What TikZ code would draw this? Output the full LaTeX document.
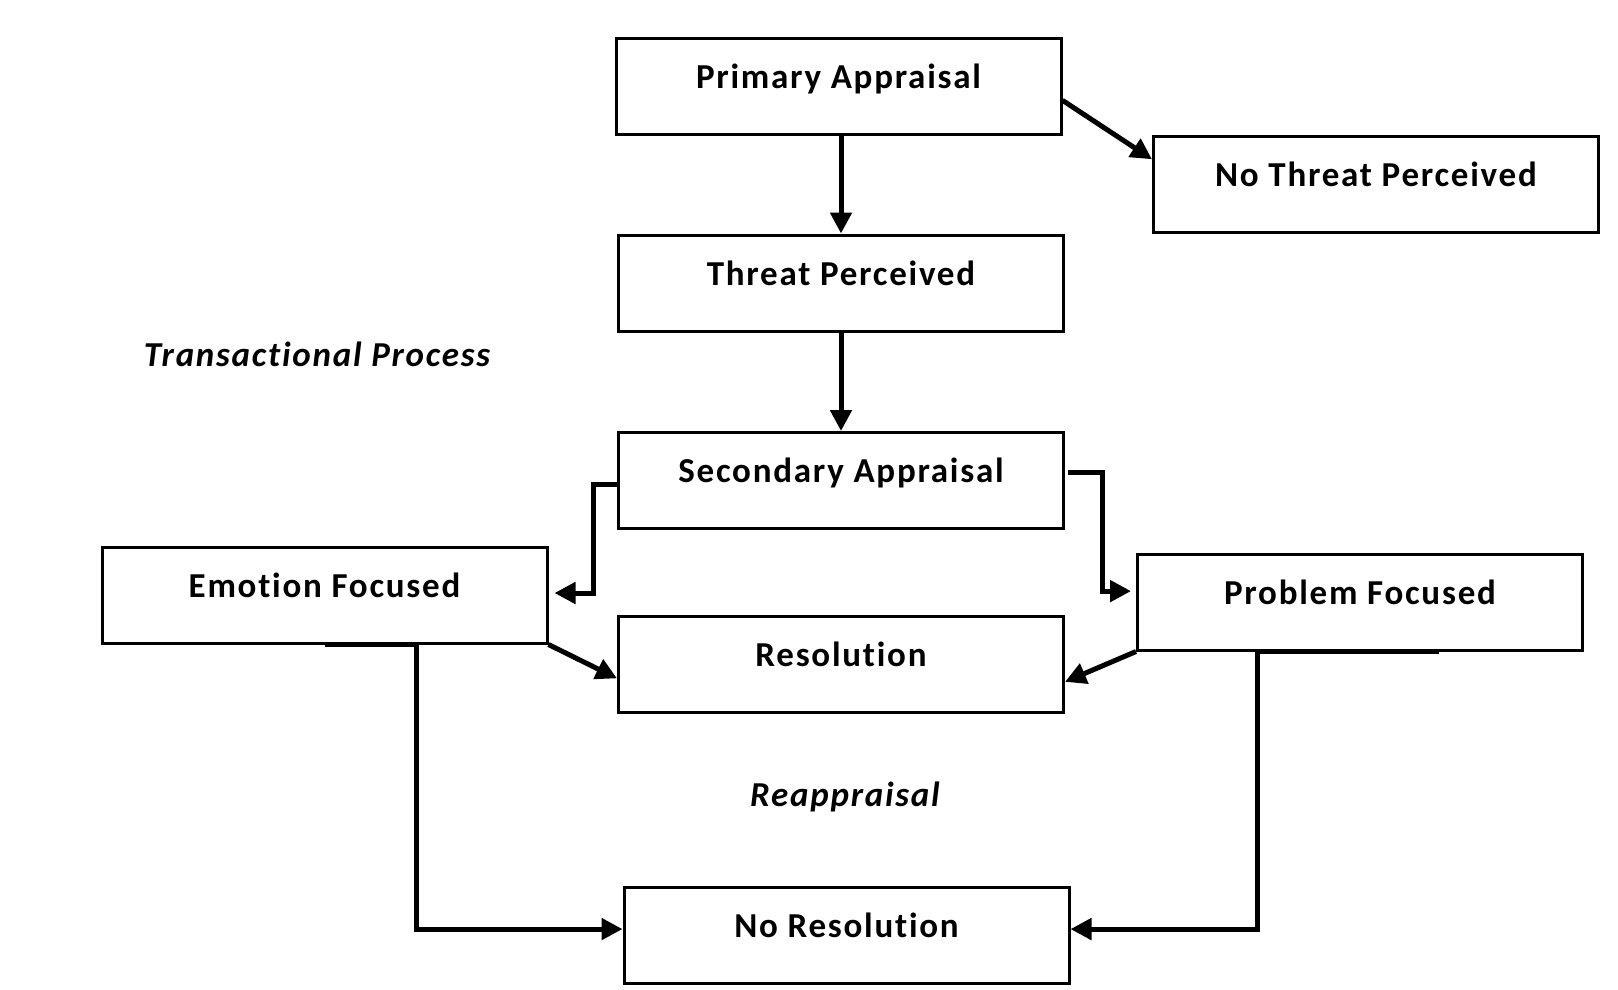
\documentclass[tikz,border=0pt]{standalone}
\usepackage{fontspec}
\setmainfont{Carlito}[LetterSpace=5,Ligatures=CommonOff]
\usetikzlibrary{arrows.meta,calc}
\begin{document}
\begin{tikzpicture}[x=1pt,y=-1pt,
  box/.style={draw=black,line width=3pt,minimum width=445pt,inner xsep=0pt,inner ysep=0pt,
    text height=50pt,text depth=46pt,font=\fontsize{35}{42}\selectfont\bfseries},
  conn/.style={line width=5pt,-{Triangle[length=21pt,width=21pt]}},
  note/.style={font=\fontsize{35}{42}\selectfont\bfseries\itshape}]
\useasboundingbox (0,0) rectangle (1618,989);
\node[box] (PA) at (838.5,86) {Primary Appraisal};
\node[box] (NTP) at (1376,184) {No Threat Perceived};
\node[box] (TP) at (841,283) {Threat Perceived};
\node[box] (SA) at (841,480.5) {Secondary Appraisal};
\node[box] (EF) at (324.5,595) {Emotion Focused};
\node[box] (PF) at (1360,602) {Problem Focused};
\node[box] (RES) at (841,664) {Resolution};
\node[box] (NR) at (846.5,935) {No Resolution};
\node[note] (TRP) at (317,354) {Transactional Process};
\node[note] (REA) at (845,797) {Reappraisal};
% connectors
\draw[conn] (PA.south -| TP.north) -- (TP.north);
\draw[conn] ($(PA.north east)!0.645!(PA.south east)$) -- ($(NTP.north west)!0.25!(NTP.south west)$);
\draw[conn] (TP.south) -- (SA.north);
\draw[conn] ($(SA.north west)!0.54!(SA.south west)$) -- ++(-24,0) |- ($(EF.north east)!0.48!(EF.south east)+(6,0)$);
\draw[conn] ($(SA.north east)!0.415!(SA.south east)+(3,0)$) -- ++(34,0) |- ($(PF.north west)!0.39!(PF.south west)+(-5,0)$);
\draw[conn] (EF.south east) -- ($(RES.north west)!0.645!(RES.south west)$);
\draw[conn] (PF.south west) -- ($(RES.north east)!0.68!(RES.south east)$);
\draw[conn] (EF.south) -- ++(92,0) |- ($(NR.north west)!0.44!(NR.south west)$);
\draw[conn] ($(PF.south)+(79,0)$) -- ($(PF.south)+(-103,0)$) |- ($(NR.north east)!0.44!(NR.south east)$);
\end{tikzpicture}
\end{document}
